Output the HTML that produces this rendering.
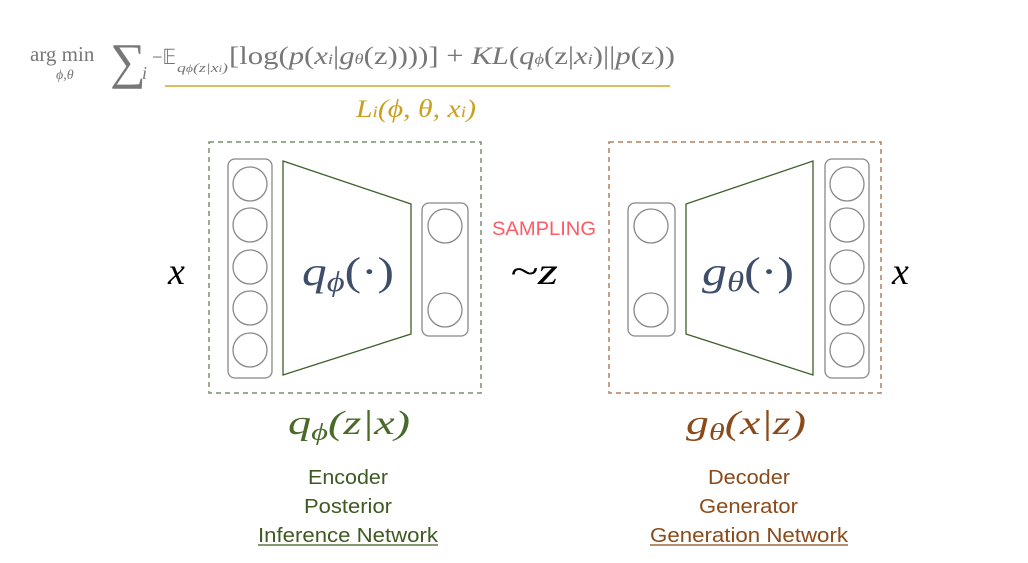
<!DOCTYPE html>
<html><head><meta charset="utf-8"><style>
body{margin:0;background:#fff;width:1028px;height:563px;overflow:hidden}
svg{display:block}
.m{font-family:"Liberation Serif",serif;font-style:italic}
.s{font-family:"Liberation Sans",sans-serif}
</style></head><body>
<svg width="1028" height="563" viewBox="0 0 1028 563">
<g fill="#777" font-family="Liberation Serif, serif">
<text x="30" y="61" font-size="21">arg min</text>
<text x="56" y="79" font-size="14" font-style="italic">ϕ,θ</text>
<text x="110" y="78" font-size="50">∑</text>
<text x="142" y="79" font-size="18" font-style="italic">i</text>
<text x="152" y="64" font-size="21" textLength="24" lengthAdjust="spacingAndGlyphs">−𝔼</text>
<text x="177" y="72" font-size="13" font-style="italic" textLength="51" lengthAdjust="spacingAndGlyphs">q<tspan font-size="10">ϕ</tspan>(z|x<tspan font-size="9">i</tspan>)</text>
<text x="229" y="64" font-size="25" textLength="446" lengthAdjust="spacingAndGlyphs">[log(<tspan font-style="italic">p</tspan>(<tspan font-style="italic">x<tspan font-size="15">i</tspan></tspan>|<tspan font-style="italic">g<tspan font-size="15">θ</tspan></tspan>(z))))] + <tspan font-style="italic">KL</tspan>(<tspan font-style="italic">q<tspan font-size="15">ϕ</tspan></tspan>(z|<tspan font-style="italic">x<tspan font-size="15">i</tspan></tspan>)||<tspan font-style="italic">p</tspan>(z))</text>
</g>
<line x1="165" y1="86" x2="670" y2="86" stroke="#d4a72c" stroke-width="1.5"/>
<text x="356" y="117" font-size="25" fill="#c9a020" class="m" textLength="120" lengthAdjust="spacingAndGlyphs">L<tspan font-size="16">i</tspan>(ϕ, θ, x<tspan font-size="16">i</tspan>)</text>

<g fill="none" stroke-dasharray="5,4" stroke-width="1.5">
<rect x="209" y="142" width="272" height="251" stroke="#7a8f6a"/>
<rect x="609" y="142" width="272" height="251" stroke="#b08060"/>
</g>
<g fill="none" stroke="#888" stroke-width="1.3">
<rect x="228" y="159" width="44" height="219" rx="7"/>
<rect x="422" y="203" width="46" height="133" rx="7"/>
<rect x="628" y="203" width="47" height="133" rx="7"/>
<rect x="825" y="159" width="44" height="219" rx="7"/>
<circle cx="250" cy="184" r="17"/><circle cx="250" cy="225" r="17"/><circle cx="250" cy="267" r="17"/><circle cx="250" cy="308" r="17"/><circle cx="250" cy="350" r="17"/>
<circle cx="445" cy="226" r="17"/><circle cx="445" cy="310" r="17"/>
<circle cx="651" cy="226" r="17"/><circle cx="651" cy="310" r="17"/>
<circle cx="847" cy="184" r="17"/><circle cx="847" cy="225" r="17"/><circle cx="847" cy="267" r="17"/><circle cx="847" cy="308" r="17"/><circle cx="847" cy="350" r="17"/>
</g>
<g fill="none" stroke="#3f5f2a" stroke-width="1.3">
<polygon points="283,161 411,204 411,334 283,375"/>
<polygon points="686,204 813,161 813,375 686,334"/>
</g>
<text x="302" y="285" font-size="40" fill="#3d4d6a" class="m" textLength="92" lengthAdjust="spacingAndGlyphs">q<tspan font-size="28" dy="6">ϕ</tspan><tspan dy="-6" font-style="normal">(·)</tspan></text>
<text x="702" y="285" font-size="40" fill="#3d4d6a" class="m" textLength="92" lengthAdjust="spacingAndGlyphs">g<tspan font-size="28" dy="6">θ</tspan><tspan dy="-6" font-style="normal">(·)</tspan></text>
<text x="168" y="284" font-size="38" class="m">x</text>
<text x="892" y="284" font-size="38" class="m">x</text>
<text x="510" y="284" font-size="38" class="m" textLength="48" lengthAdjust="spacingAndGlyphs">~z</text>
<text x="492" y="235" font-size="19" fill="#ff5a64" class="s" textLength="104" lengthAdjust="spacingAndGlyphs">SAMPLING</text>
<text x="288" y="434" font-size="34" fill="#4a6a2a" class="m" textLength="122" lengthAdjust="spacingAndGlyphs">q<tspan font-size="24" dy="6">ϕ</tspan><tspan dy="-6">(z|x)</tspan></text>
<text x="686" y="434" font-size="34" fill="#8a4a1a" class="m" textLength="120" lengthAdjust="spacingAndGlyphs">g<tspan font-size="24" dy="6">θ</tspan><tspan dy="-6">(x|z)</tspan></text>
<g font-size="20" class="s">
<g fill="#3e5a20">
<text x="308" y="484" textLength="80" lengthAdjust="spacingAndGlyphs">Encoder</text>
<text x="304" y="513" textLength="88" lengthAdjust="spacingAndGlyphs">Posterior</text>
<text x="258" y="542" textLength="180" lengthAdjust="spacingAndGlyphs">Inference Network</text>
</g>
<g fill="#8a4a1a">
<text x="708" y="484" textLength="82" lengthAdjust="spacingAndGlyphs">Decoder</text>
<text x="699" y="513" textLength="99" lengthAdjust="spacingAndGlyphs">Generator</text>
<text x="650" y="542" textLength="198" lengthAdjust="spacingAndGlyphs">Generation Network</text>
</g>
</g>
<line x1="258" y1="545" x2="438" y2="545" stroke="#3e5a20" stroke-width="1.2"/>
<line x1="650" y1="545" x2="848" y2="545" stroke="#8a4a1a" stroke-width="1.2"/>
</svg>
</body></html>
